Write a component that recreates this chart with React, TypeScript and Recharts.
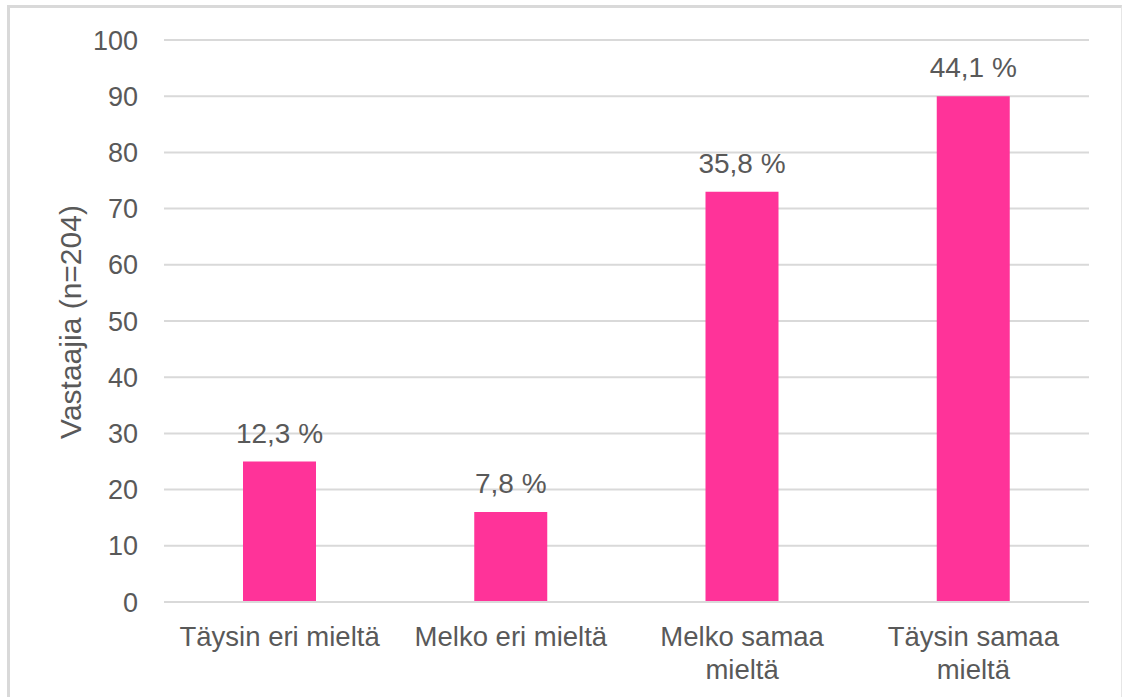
import React from 'react';
import { BarChart, Bar, XAxis, YAxis, CartesianGrid, LabelList } from 'recharts';

const categories = ['Täysin eri mieltä', 'Melko eri mieltä', 'Melko samaa\nmieltä', 'Täysin samaa\nmieltä'];
const counts = [25, 16, 73, 90];
const percentLabels = ['12,3 %', '7,8 %', '35,8 %', '44,1 %'];
const yTicks = [0, 10, 20, 30, 40, 50, 60, 70, 80, 90, 100];
const yAxisTitle = 'Vastaajia (n=204)';

const data = categories.map((c, i) => ({ name: c, value: counts[i], pct: percentLabels[i] }));

const FONT = '"Liberation Sans", Arial, sans-serif';
const TEXT = '#595959';
const GRID = '#d9d9d9';
const PINK = '#FF3399';

const XTick = (props: any) => {
  const { x, y, payload } = props;
  const lines = String(payload.value).split('\n');
  return (
    <text x={x} y={y} textAnchor="middle" fill={TEXT} fontSize={27.5} fontFamily={FONT}>
      {lines.map((l, i) => (
        <tspan key={i} x={x} dy={i === 0 ? '0.71em' : 33}>
          {l}
        </tspan>
      ))}
    </text>
  );
};

const YTitle = (props: any) => {
  const { viewBox } = props;
  const cx = viewBox.x - 24;
  const cy = viewBox.y + viewBox.height / 2 + 1;
  return (
    <text
      x={cx}
      y={cy}
      transform={`rotate(-90 ${cx} ${cy})`}
      textAnchor="middle"
      dominantBaseline="central"
      fill={TEXT}
      fontSize={30}
      fontFamily={FONT}
    >
      {yAxisTitle}
    </text>
  );
};

export default function App() {
  return (
    <>
      <div
        style={{
          position: 'absolute',
          left: 7,
          top: 5,
          width: 1115,
          height: 692,
          boxSizing: 'border-box',
          borderTop: '3px solid #d9d9d9',
          borderLeft: '3px solid #d9d9d9',
          borderRight: '1px solid #e6e6e6',
        }}
      />
      <div style={{ position: 'absolute', left: 0, top: 0 }}>
        <BarChart
          width={1122}
          height={697}
          data={data}
          margin={{ top: 40, right: 33, bottom: 15, left: 94 }}
          barSize={73}
        >
          <CartesianGrid vertical={false} stroke={GRID} strokeWidth={2} />
          <XAxis
            dataKey="name"
            height={80}
            tickLine={false}
            tickSize={0}
            tickMargin={24}
            axisLine={{ stroke: GRID, strokeWidth: 2 }}
            tick={<XTick />}
            interval={0}
          />
          <YAxis
            width={70}
            domain={[0, 100]}
            ticks={yTicks}
            interval={0}
            tickLine={false}
            axisLine={false}
            tickSize={0}
            tickMargin={26}
            tick={{ fill: TEXT, fontSize: 27, fontFamily: FONT }}
            label={<YTitle />}
          />
          <Bar dataKey="value" fill={PINK} isAnimationActive={false}>
            <LabelList
              dataKey="pct"
              position="top"
              offset={19}
              fill={TEXT}
              fontSize={28}
              fontFamily={FONT}
            />
          </Bar>
        </BarChart>
      </div>
    </>
  );
}
